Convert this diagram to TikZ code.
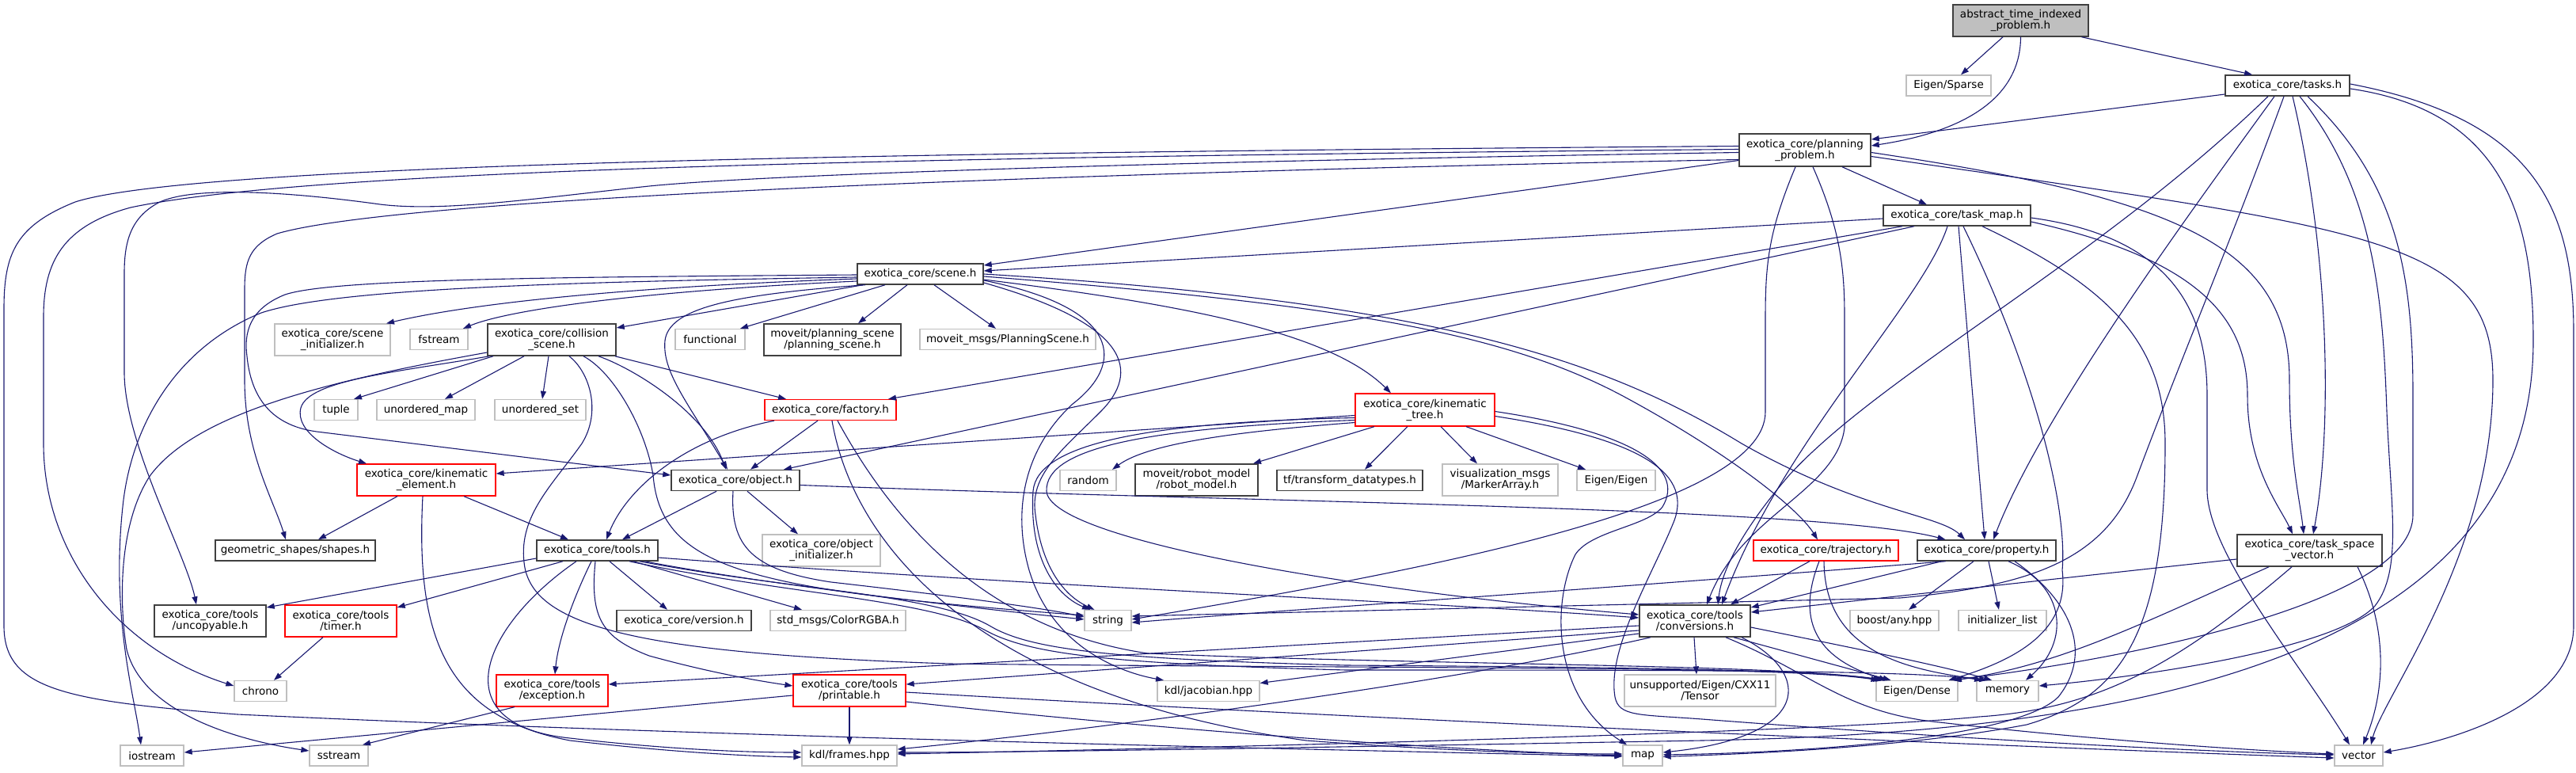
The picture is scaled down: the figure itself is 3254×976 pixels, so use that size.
\documentclass[tikz,border=0pt]{standalone}
\usepackage{fontspec}
\setmainfont{DejaVu Sans}
\usetikzlibrary{arrows.meta}
\definecolor{edgeblue}{HTML}{191970}
\definecolor{nodegray}{HTML}{BFBFBF}
\definecolor{nodedark}{HTML}{404040}
\begin{document}
\begin{tikzpicture}[x=1pt,y=-1pt,
 box/.style={fill=white,inner sep=0pt,align=center,font=\fontsize{13.5}{14}\selectfont},
 nb/.style={box,draw=nodedark,line width=1.5pt},
 ng/.style={box,draw=nodegray,line width=1.3pt},
 nr/.style={box,draw=red,line width=1.3pt},
 root/.style={box,draw=nodedark,fill=nodegray,line width=1.5pt},
 sz/.style 2 args={minimum width=#1pt,minimum height=#2pt},
 edg/.style={draw=edgeblue,line width=1.1pt,-{Triangle[length=10pt,width=7pt]}}
]
\path[use as bounding box] (0,0) rectangle (3254,976);

% ---------------- nodes ----------------
\node[root,sz={171}{40}] (abs) at (2552.5,26) {abstract\_time\_indexed\\\_problem.h};
\node[ng,sz={107}{26}] (sparse) at (2461.5,108) {Eigen/Sparse};
\node[nb,sz={157}{26}] (tasks) at (2889.5,108) {exotica\_core/tasks.h};
\node[nb,sz={166}{41}] (pp) at (2280,189.5) {exotica\_core/planning\\\_problem.h};
\node[nb,sz={186}{26}] (tm) at (2472,272) {exotica\_core/task\_map.h};
\node[nb,sz={159}{26}] (scene) at (1162.5,346) {exotica\_core/scene.h};
\node[ng,sz={146}{40}] (sinit) at (420,429) {exotica\_core/scene\\\_initializer.h};
\node[ng,sz={73}{26}] (fstream) at (554.5,428.5) {fstream};
\node[nb,sz={162}{40}] (coll) at (697,429) {exotica\_core/collision\\\_scene.h};
\node[ng,sz={88}{26}] (functional) at (897,428.5) {functional};
\node[nb,sz={173}{40}] (mps) at (1051.5,429) {moveit/planning\_scene\\/planning\_scene.h};
\node[ng,sz={222}{26}] (mmsg) at (1273,428.5) {moveit\_msgs/PlanningScene.h};
\node[ng,sz={55}{26}] (tuple) at (424.5,517.5) {tuple};
\node[ng,sz={124}{26}] (umap) at (538,517.5) {unordered\_map};
\node[ng,sz={115}{26}] (uset) at (682.5,517.5) {unordered\_set};
\node[nr,sz={166}{26}] (factory) at (1049,517.5) {exotica\_core/factory.h};
\node[nr,sz={176}{41}] (ktree) at (1800,517.5) {exotica\_core/kinematic\\\_tree.h};
\node[nr,sz={175}{40}] (kelem) at (538.5,606) {exotica\_core/kinematic\\\_element.h};
\node[nb,sz={162}{26}] (object) at (929,606.5) {exotica\_core/object.h};
\node[ng,sz={71}{26}] (random) at (1374.5,606.5) {random};
\node[nb,sz={155}{40}] (robot) at (1511.5,606) {moveit/robot\_model\\/robot\_model.h};
\node[nb,sz={184}{26}] (tf) at (1705,606.5) {tf/transform\_datatypes.h};
\node[ng,sz={146}{40}] (vis) at (1895,606) {visualization\_msgs\\/MarkerArray.h};
\node[ng,sz={99}{26}] (eigen) at (2041.5,606.5) {Eigen/Eigen};
\node[nb,sz={202}{26}] (geo) at (373,695) {geometric\_shapes/shapes.h};
\node[nb,sz={153}{26}] (tools) at (754.5,695) {exotica\_core/tools.h};
\node[ng,sz={149}{40}] (objinit) at (1037.5,695) {exotica\_core/object\\\_initializer.h};
\node[nr,sz={183}{26}] (traj) at (2306.5,695) {exotica\_core/trajectory.h};
\node[nb,sz={175}{26}] (prop) at (2509.5,695) {exotica\_core/property.h};
\node[nb,sz={183}{40}] (tsv) at (2917.5,695) {exotica\_core/task\_space\\\_vector.h};
\node[nb,sz={141}{40}] (uncop) at (265.5,784) {exotica\_core/tools\\/uncopyable.h};
\node[nr,sz={141}{40}] (timer) at (430.5,784) {exotica\_core/tools\\/timer.h};
\node[nb,sz={170}{26}] (version) at (864,783.5) {exotica\_core/version.h};
\node[ng,sz={171}{26}] (color) at (1058.5,783.5) {std\_msgs/ColorRGBA.h};
\node[ng,sz={59}{26}] (string) at (1399.5,783.5) {string};
\node[nb,sz={140}{40}] (conv) at (2141,784) {exotica\_core/tools\\/conversions.h};
\node[ng,sz={112}{26}] (boost) at (2393,783.5) {boost/any.hpp};
\node[ng,sz={111}{26}] (initl) at (2529.5,783.5) {initializer\_list};
\node[ng,sz={66}{26}] (chrono) at (329,872.5) {chrono};
\node[nr,sz={141}{40}] (exception) at (697.5,872) {exotica\_core/tools\\/exception.h};
\node[nr,sz={142}{40}] (printable) at (1073,872) {exotica\_core/tools\\/printable.h};
\node[ng,sz={129}{26}] (jacobian) at (1526.5,872.5) {kdl/jacobian.hpp};
\node[ng,sz={191}{40}] (unsup) at (2147.5,872) {unsupported/Eigen/CXX11\\/Tensor};
\node[ng,sz={103}{26}] (dense) at (2421.5,872.5) {Eigen/Dense};
\node[ng,sz={78}{26}] (memory) at (2536,872.5) {memory};
\node[ng,sz={80}{26}] (iostream) at (192,954) {iostream};
\node[ng,sz={74}{26}] (sstream) at (428,954) {sstream};
\node[ng,sz={120}{26}] (frames) at (1073,954) {kdl/frames.hpp};
\node[ng,sz={50}{26}] (map) at (2075,954) {map};
\node[ng,sz={61}{26}] (vector) at (2979.5,954) {vector};

% ---------------- edges ----------------
% abstract_time_indexed_problem.h
\draw[edg] ([xshift=-22.5pt]abs.south) -- ([xshift=15.5pt]sparse.north);
\draw[edg] (abs.south) .. controls (2552,130) and (2470,168) .. ([yshift=5.5pt]pp.east);
\draw[edg] ([xshift=77pt]abs.south) -- ([xshift=-44.5pt]tasks.north);

% tasks.h
\draw[edg] ([yshift=-11pt]tasks.west) -- ([yshift=13.5pt]pp.east);
\draw[edg] ([xshift=-24.5pt]tasks.south) .. controls (2650,330) and (2380,470) .. (2260,600) .. controls (2200,670) and (2175,720) .. ([xshift=29pt]conv.north);
\draw[edg] ([xshift=-16.5pt]tasks.south) .. controls (2780,250) and (2580,520) .. ([xshift=8.5pt]prop.north);
\draw[edg] ([xshift=-4.5pt]tasks.south) .. controls (2820,300) and (2760,440) .. (2700,600) .. controls (2660,710) and (2560,740) .. (2400,755) -- ([yshift=5.5pt]string.east);
\draw[edg] ([xshift=6.5pt]tasks.south) .. controls (2945,330) and (2945,550) .. ([xshift=4.5pt]tsv.north);
\draw[edg] ([xshift=15.5pt]tasks.south) .. controls (3000,240) and (3010,380) .. (3015,520) .. controls (3020,640) and (3035,720) .. (3000,765) .. controls (2950,820) and (2700,855) .. ([yshift=6.5pt]memory.east);
\draw[edg] ([xshift=25.5pt]tasks.south) .. controls (3030,230) and (3048,350) .. (3048,500) -- (3048,650) .. controls (3048,760) and (2700,830) .. ([xshift=45pt]dense.north);
\draw[edg] ([yshift=-4pt]tasks.east) .. controls (3160,140) and (3200,270) .. (3200,430) .. controls (3200,830) and (2700,925) .. (2150,935) .. controls (1700,943) and (1300,950) .. ([yshift=4pt]frames.east);
\draw[edg] ([yshift=2pt]tasks.east) .. controls (3200,150) and (3251,260) .. (3251,420) -- (3251,790) .. controls (3251,890) and (3100,935) .. ([yshift=4pt]vector.east);

% planning_problem.h
\draw[edg] ([xshift=47pt]pp.south) -- ([xshift=-38pt]tm.north);
\draw[edg] ([yshift=-13pt]pp.west) -- ([yshift=11pt]scene.east);
\draw[edg] ([xshift=-12pt]pp.south) .. controls (2235,290) and (2230,330) .. (2230,400) -- (2230,520) .. controls (2230,640) and (1800,720) .. ([yshift=1.5pt]string.east);
\draw[edg] ([xshift=10pt]pp.south) .. controls (2325,290) and (2330,340) .. (2330,400) -- (2330,540) .. controls (2320,620) and (2200,650) .. ([xshift=15pt]conv.north);
\draw[edg] ([yshift=-3pt]pp.east) .. controls (2750,250) and (2892,310) .. (2892,480) .. controls (2892,580) and (2905,630) .. ([xshift=-7.5pt]tsv.north);
\draw[edg] ([yshift=-8pt]pp.east) .. controls (3000,290) and (3149,300) .. (3149,480) .. controls (3149,700) and (3010,880) .. ([xshift=15.5pt]vector.north);
\draw[edg] ([yshift=5pt]pp.west) .. controls (1200,192) and (250,205) .. (95,255) .. controls (20,285) and (5,320) .. (5,390) -- (5,790) .. controls (5,870) and (80,885) .. (300,902) .. controls (900,930) and (1600,945) .. ([yshift=-1pt]map.west);
\draw[edg] ([yshift=1pt]pp.west) .. controls (1200,198) and (400,212) .. (165,262) .. controls (80,285) and (55,330) .. (55,400) -- (55,560) .. controls (55,700) and (150,820) .. ([yshift=6.5pt]chrono.west);
\draw[edg] ([yshift=-3pt]pp.west) .. controls (1400,205) and (950,222) .. (820,235) .. controls (680,250) and (560,268) .. (480,258) .. controls (350,240) and (240,236) .. (200,256) .. controls (165,275) and (157,305) .. (157,345) -- (157,470) .. controls (157,560) and (235,700) .. ([xshift=-17.5pt]uncop.north);
\draw[edg] ([yshift=-12pt]pp.west) .. controls (1500,215) and (520,245) .. (350,295) .. controls (315,310) and (309,330) .. (309,365) -- (309,480) .. controls (309,570) and (345,630) .. ([xshift=-12pt]geo.north);

% task_map.h
\draw[edg] ([yshift=-4pt]tm.west) -- ([yshift=4pt]scene.east);
\draw[edg] ([xshift=-69pt]tm.south) -- ([xshift=73pt]factory.north);
\draw[edg] ([xshift=-54pt]tm.south) -- ([xshift=61pt]object.north);
\draw[edg] ([xshift=-12pt]tm.south) .. controls (2430,380) and (2250,560) .. ([xshift=34pt]conv.north);
\draw[edg] ([xshift=2pt]tm.south) -- ([xshift=-2.5pt]prop.north);
\draw[edg] ([xshift=8pt]tm.south) .. controls (2570,470) and (2612,640) .. (2605,720) .. controls (2615,800) and (2540,835) .. ([xshift=40pt]dense.north);
\draw[edg] ([xshift=32pt]tm.south) .. controls (2660,360) and (2735,430) .. (2735,560) .. controls (2735,800) and (2680,880) .. (2560,915) .. controls (2400,945) and (2200,952) .. ([yshift=-1.5pt]map.east);
\draw[edg] ([yshift=-3pt]tm.east) .. controls (2750,300) and (2788,400) .. (2788,500) -- (2788,620) .. controls (2790,700) and (2900,830) .. ([xshift=-11.5pt]vector.north);
\draw[edg] ([yshift=-8pt]tm.east) .. controls (2790,330) and (2839,410) .. (2839,500) .. controls (2839,590) and (2880,640) .. ([xshift=-21.5pt]tsv.north);

% scene.h
\draw[edg] ([yshift=-6pt]scene.west) .. controls (800,362) and (600,382) .. ([xshift=68pt]sinit.north);
\draw[edg] ([yshift=-9pt]scene.west) .. controls (800,368) and (640,392) .. ([xshift=30.5pt]fstream.north);
\draw[edg] ([xshift=-72.5pt]scene.south) -- ([yshift=15pt]coll.east);
\draw[edg] ([xshift=-44.5pt]scene.south) -- ([xshift=38pt]functional.north);
\draw[edg] ([xshift=-16.5pt]scene.south) -- ([xshift=32.5pt]mps.north);
\draw[edg] ([xshift=17.5pt]scene.south) -- ([xshift=-15pt]mmsg.north);
\draw[edg] ([xshift=-69.5pt]scene.south) .. controls (920,372) and (845,390) .. (840,430) .. controls (836,470) and (870,510) .. ([xshift=-10pt]object.north);
\draw[edg] ([yshift=-1pt]scene.west) .. controls (700,350) and (420,352) .. (360,372) .. controls (315,390) and (308,420) .. (312,450) .. controls (318,510) and (350,538) .. (400,545) -- ([yshift=6.5pt]object.west);
\draw[edg] ([yshift=-4pt]scene.west) .. controls (700,356) and (420,365) .. (330,395) .. controls (220,440) and (165,540) .. (155,640) .. controls (140,780) and (170,880) .. ([xshift=-14pt]iostream.north);
\draw[edg] ([yshift=-7pt]scene.east) .. controls (1500,385) and (1680,420) .. ([xshift=-43pt]ktree.north);
\draw[edg] ([yshift=-3pt]scene.east) .. controls (1700,385) and (1900,420) .. (2050,500) .. controls (2180,570) and (2270,640) .. ([xshift=-10.5pt]traj.north);
\draw[edg] (scene.east) .. controls (1800,380) and (2020,450) .. (2200,560) .. controls (2350,645) and (2450,650) .. ([xshift=-27.5pt]prop.north);
\draw[edg] ([yshift=-11pt]scene.east) .. controls (1430,410) and (1440,470) .. (1390,520) .. controls (1340,570) and (1300,600) .. (1308,650) .. controls (1315,710) and (1340,750) .. ([xshift=-17pt]string.north);
\draw[edg] ([yshift=-8pt]scene.east) .. controls (1420,390) and (1420,460) .. (1355,510) .. controls (1290,570) and (1280,650) .. (1300,720) .. controls (1330,820) and (1420,850) .. ([xshift=-56.5pt]jacobian.north);

% kinematic_tree.h
\draw[edg] ([yshift=-7pt]ktree.west) -- ([yshift=8pt]kelem.east);
\draw[edg] ([yshift=-16pt]ktree.west) .. controls (1560,545) and (1450,560) .. ([xshift=30.5pt]random.north);
\draw[edg] ([xshift=-64pt]ktree.south) -- ([xshift=71.5pt]robot.north);
\draw[edg] ([xshift=-22pt]ktree.south) -- ([xshift=19pt]tf.north);
\draw[edg] ([xshift=20pt]ktree.south) -- ([xshift=-29pt]vis.north);
\draw[edg] ([xshift=52pt]ktree.south) -- ([xshift=-38.5pt]eigen.north);
\draw[edg] ([yshift=-10pt]ktree.west) .. controls (1450,533) and (1310,560) .. (1305,620) .. controls (1300,700) and (1330,750) .. ([xshift=-22.5pt]string.north);
\draw[edg] ([yshift=-13pt]ktree.west) .. controls (1450,540) and (1320,565) .. (1322,620) .. controls (1325,680) and (1700,745) .. ([yshift=8pt]conv.west);
\draw[edg] ([yshift=-2pt]ktree.east) .. controls (2060,545) and (2130,590) .. (2100,640) .. controls (2080,665) and (2010,670) .. (1990,700) .. controls (1960,760) and (1960,880) .. ([xshift=-20pt]map.north);
\draw[edg] ([yshift=-8pt]ktree.east) .. controls (2080,555) and (2140,600) .. (2113,662) .. controls (2085,730) and (2030,820) .. (2040,880) .. controls (2045,905) and (2070,902) .. (2150,908) .. controls (2500,935) and (2800,950) .. ([yshift=1pt]vector.west);

% kinematic_element.h
\draw[edg] ([xshift=-36.5pt]kelem.south) -- ([xshift=29pt]geo.north);
\draw[edg] ([xshift=47.5pt]kelem.south) -- ([xshift=-36.5pt]tools.north);
\draw[edg] ([xshift=-4.5pt]kelem.south) .. controls (525,800) and (560,905) .. (720,935) .. controls (850,950) and (950,955) .. ([yshift=-2pt]frames.west);

% factory.h
\draw[edg] ([xshift=-16pt]factory.south) -- ([xshift=19pt]object.north);
\draw[edg] ([xshift=-71pt]factory.south) .. controls (860,555) and (790,620) .. ([xshift=11.5pt]tools.north);
\draw[edg] ([xshift=2pt]factory.south) .. controls (1080,700) and (1250,880) .. (1650,935) .. controls (1850,950) and (1980,952) .. ([yshift=2pt]map.west);
\draw[edg] ([xshift=9pt]factory.south) .. controls (1150,700) and (1280,800) .. (1450,825) .. controls (1800,840) and (2250,838) .. ([xshift=-45pt]dense.north);

% object.h
\draw[edg] ([xshift=-24pt]object.south) -- ([xshift=31.5pt]tools.north);
\draw[edg] ([xshift=15pt]object.south) -- ([xshift=-29.5pt]objinit.north);
\draw[edg] ([xshift=-3pt]object.south) .. controls (922,690) and (950,720) .. (1050,735) .. controls (1200,752) and (1320,768) .. ([yshift=4.5pt]string.west);
\draw[edg] ([yshift=-6pt]object.east) .. controls (1600,635) and (2300,640) .. ([xshift=-52pt]prop.north);

% tools.h
\draw[edg] ([yshift=-10pt]tools.west) -- ([yshift=17pt]uncop.east);
\draw[edg] ([xshift=-43.5pt]tools.south) -- ([yshift=17pt]timer.east);
\draw[edg] ([xshift=-7.5pt]tools.south) .. controls (722,760) and (705,810) .. ([xshift=3.5pt]exception.north);
\draw[edg] ([xshift=15.5pt]tools.south) -- ([xshift=-21pt]version.north);
\draw[edg] ([xshift=45.5pt]tools.south) -- ([xshift=-45.5pt]color.north);
\draw[edg] ([xshift=60pt]tools.south) .. controls (950,735) and (1200,765) .. ([yshift=1.5pt]string.west);
\draw[edg] ([yshift=-9pt]tools.east) .. controls (1300,740) and (1800,760) .. ([yshift=4pt]conv.west);
\draw[edg] ([xshift=53.5pt]tools.south) .. controls (1000,745) and (1180,750) .. (1250,790) .. controls (1300,820) and (1400,832) .. (1700,840) .. controls (2000,842) and (2300,845) .. ([xshift=-42pt]dense.north);
\draw[edg] ([xshift=40.5pt]tools.south) .. controls (990,750) and (1175,757) .. (1245,796) .. controls (1300,826) and (1400,838) .. (1700,846) .. controls (2100,846) and (2420,846) .. ([xshift=-32pt]memory.north);
\draw[edg] ([xshift=-2.5pt]tools.south) .. controls (745,780) and (760,805) .. (820,828) .. controls (900,850) and (960,860) .. ([yshift=6pt]printable.west);
\draw[edg] ([xshift=-26.5pt]tools.south) .. controls (610,790) and (555,915) .. (720,932) .. controls (850,947) and (950,950) .. ([yshift=4pt]frames.west);

% trajectory.h
\draw[edg] ([xshift=-20.5pt]traj.south) -- ([xshift=45pt]conv.north);
\draw[edg] ([xshift=-8.5pt]traj.south) .. controls (2270,780) and (2290,830) .. ([xshift=-38pt]dense.north);
\draw[edg] ([xshift=-2.5pt]traj.south) .. controls (2305,820) and (2400,845) .. ([xshift=-26pt]memory.north);

% property.h
\draw[edg] ([xshift=-52pt]prop.south) .. controls (2000,745) and (1600,772) .. ([yshift=-2.5pt]string.east);
\draw[edg] ([xshift=-57pt]prop.south) -- ([yshift=17pt]conv.east);
\draw[edg] ([xshift=-16.5pt]prop.south) -- ([xshift=18pt]boost.north);
\draw[edg] ([xshift=2.5pt]prop.south) -- ([xshift=-4.5pt]initl.north);
\draw[edg] ([xshift=27.5pt]prop.south) .. controls (2610,740) and (2615,810) .. ([xshift=23pt]memory.north);
\draw[edg] ([xshift=35.5pt]prop.south) .. controls (2625,765) and (2640,830) .. (2600,880) .. controls (2550,930) and (2300,950) .. ([yshift=1pt]map.east);

% task_space_vector.h
\draw[edg] ([yshift=-11pt]tsv.west) -- ([yshift=11pt]conv.east);
\draw[edg] ([xshift=-51.5pt]tsv.south) .. controls (2700,790) and (2600,840) .. ([xshift=46.5pt]dense.north);
\draw[edg] ([xshift=-22.5pt]tsv.south) .. controls (2750,840) and (2650,895) .. (2500,905) .. controls (2300,925) and (1500,945) .. ([yshift=2pt]frames.east);
\draw[edg] ([xshift=60.5pt]tsv.south) .. controls (3020,800) and (3010,880) .. ([xshift=5.5pt]vector.north);

% timer.h
\draw[edg] ([xshift=-22.5pt]timer.south) -- ([xshift=17pt]chrono.north);

% conversions.h
\draw[edg] ([xshift=-1pt]conv.south) -- ([xshift=-4.5pt]unsup.north);
\draw[edg] ([yshift=-6pt]conv.west) -- ([yshift=8pt]exception.east);
\draw[edg] ([yshift=-12pt]conv.west) -- ([yshift=8pt]printable.east);
\draw[edg] ([yshift=-16pt]conv.west) -- ([yshift=10pt]jacobian.east);
\draw[edg] ([xshift=-56pt]conv.south) .. controls (1800,870) and (1300,930) .. ([yshift=8pt]frames.east);
\draw[edg] ([xshift=59pt]conv.south) .. controls (2290,850) and (2290,930) .. ([yshift=4pt]map.east);
\draw[edg] ([xshift=49pt]conv.south) -- ([xshift=-33pt]dense.north);
\draw[edg] ([yshift=-8pt]conv.east) .. controls (2350,820) and (2450,840) .. ([xshift=-20pt]memory.north);
\draw[edg] ([xshift=39pt]conv.south) .. controls (2290,850) and (2330,900) .. (2450,912) .. controls (2650,935) and (2850,948) .. ([yshift=2pt]vector.west);

% exception.h / printable.h
\draw[edg] ([xshift=-47.5pt]exception.south) -- ([xshift=30pt]sstream.north);
\draw[edg] ([yshift=-6pt]printable.west) -- ([yshift=4pt]iostream.east);
\draw[edg] (printable.south) -- (frames.north);
\draw[edg] ([yshift=-14pt]printable.east) .. controls (1500,925) and (1850,948) .. (map.west);
\draw[edg] ([yshift=-2pt]printable.east) .. controls (1800,912) and (2600,945) .. ([yshift=-3pt]vector.west);

% collision_scene.h
\draw[edg] ([xshift=-74pt]coll.south) -- ([xshift=22.5pt]tuple.north);
\draw[edg] ([xshift=-35pt]coll.south) -- ([xshift=24pt]umap.north);
\draw[edg] ([xshift=-4pt]coll.south) -- ([xshift=2.5pt]uset.north);
\draw[edg] ([xshift=-79pt]coll.south) .. controls (500,470) and (390,480) .. (380,515) .. controls (372,545) and (420,572) .. ([xshift=-75.5pt]kelem.north);
\draw[edg] ([yshift=-16pt]coll.west) .. controls (420,480) and (250,520) .. (190,600) .. controls (150,660) and (150,760) .. (160,820) .. controls (180,900) and (300,935) .. ([yshift=6pt]sstream.west);
\draw[edg] ([xshift=80pt]coll.south) -- ([xshift=-56pt]factory.north);
\draw[edg] ([xshift=59pt]coll.south) .. controls (800,465) and (890,520) .. ([xshift=-12pt]object.north);
\draw[edg] ([xshift=40pt]coll.south) .. controls (775,470) and (815,540) .. (825,600) .. controls (835,720) and (950,745) .. ([yshift=6.5pt]string.west);
\draw[edg] ([xshift=22pt]coll.south) .. controls (745,470) and (760,520) .. (735,560) .. controls (700,610) and (655,650) .. (662,710) .. controls (670,790) and (800,825) .. (1200,838) .. controls (1800,845) and (2250,840) .. ([xshift=-48pt]dense.north);

\end{tikzpicture}
\end{document}
